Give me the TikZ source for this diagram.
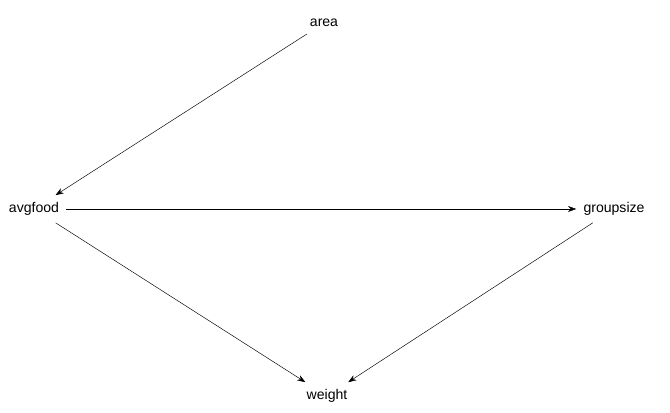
\documentclass[tikz,border=0pt]{standalone}
\usepackage{fontspec}
\setmainfont{Liberation Sans}
\usetikzlibrary{arrows.meta}

\begin{document}
\begin{tikzpicture}[x=0.03cm, y=-0.03cm, font=\fontsize{12}{14}\selectfont,
    var/.style={inner sep=6pt},
    edge/.style={-{Stealth[length=7pt, width=5pt]}, thin}]
  \useasboundingbox (0,0) rectangle (670,412);
  \node[var] (area) at (324,23) {area};
  \node[var] (avgfood) at (34,209) {avgfood};
  \node[var] (groupsize) at (614,209) {groupsize};
  \node[var] (weight) at (327,396) {weight};
  \draw[edge] (area) -- (avgfood);
  \draw[edge] (avgfood) -- (groupsize);
  \draw[edge] (avgfood) -- (weight);
  \draw[edge] (groupsize) -- (weight);
\end{tikzpicture}
\end{document}
